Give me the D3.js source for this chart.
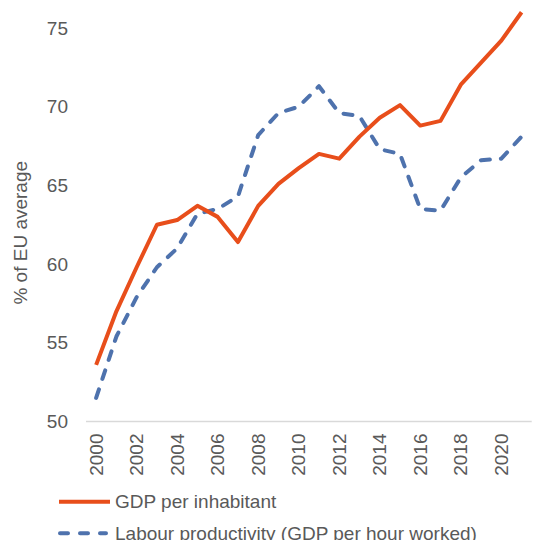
<!DOCTYPE html>
<html>
<head>
<meta charset="utf-8">
<script src="https://cdn.jsdelivr.net/npm/d3@7"></script>
<style>
	body { margin: 0; background: #fff; }
	text { font-family: "Liberation Sans", Arial, sans-serif; fill: #595959; }
</style>
</head>
<body>
<svg id="chart" width="534" height="540"></svg>
<script>
var years = d3.range(2000, 2022);
var gdpPerInhabitant = [53.6, 57.0, 59.8, 62.5, 62.8, 63.7, 63.0, 61.4, 63.7, 65.1, 66.1, 67.0, 66.7, 68.1, 69.3, 70.1, 68.8, 69.1, 71.4, 72.8, 74.2, 76.0];
var labourProductivity = [51.5, 55.4, 57.9, 59.8, 61.0, 63.2, 63.5, 64.3, 68.2, 69.6, 70.0, 71.3, 69.6, 69.4, 67.3, 67.0, 63.5, 63.4, 65.5, 66.6, 66.7, 68.1];
var yTicks = [50, 55, 60, 65, 70, 75];
var xTicks = [2000, 2002, 2004, 2006, 2008, 2010, 2012, 2014, 2016, 2018, 2020];
var seriesNames = ["GDP per inhabitant", "Labour productivity (GDP per hour worked)"];

var svg = d3.select("#chart"),
	red = "#E84E1B",
	blue = "#4E72AD",
	fontSize = "19px";

var x = d3.scalePoint()
	.domain(years)
	.range([86, 531.7])
	.padding(0.5);

var y = d3.scaleLinear()
	.domain([50, 75])
	.range([421.5, 28]);

// x axis line
svg.append("line")
	.attr("x1", 86).attr("x2", 531.7)
	.attr("y1", y(50)).attr("y2", y(50))
	.attr("stroke", "#d9d9d9")
	.attr("stroke-width", 1.3);

// y tick labels
svg.selectAll(".ytick")
	.data(yTicks)
	.enter().append("text")
	.attr("class", "ytick")
	.attr("x", 68)
	.attr("y", function (d) { return y(d); })
	.attr("dy", "0.35em")
	.attr("text-anchor", "end")
	.style("font-size", fontSize)
	.text(function (d) { return d; });

// x tick labels, rotated
svg.selectAll(".xtick")
	.data(xTicks)
	.enter().append("text")
	.attr("class", "xtick")
	.attr("transform", function (d) { return "translate(" + x(d) + "," + (y(50) + 12) + ") rotate(-90)"; })
	.attr("dy", "0.35em")
	.attr("text-anchor", "end")
	.style("font-size", fontSize)
	.text(function (d) { return d; });

// y axis title
svg.append("text")
	.attr("transform", "translate(20," + ((28 + 421.5) / 2 + 8) + ") rotate(-90)")
	.attr("dy", "0.35em")
	.attr("text-anchor", "middle")
	.style("font-size", fontSize)
	.text("% of EU average");

var line = d3.line()
	.x(function (d, i) { return x(years[i]); })
	.y(function (d) { return y(d); });

svg.append("path")
	.datum(labourProductivity)
	.attr("fill", "none")
	.attr("stroke", blue)
	.attr("stroke-width", 4)
	.attr("stroke-linecap", "round")
	.attr("stroke-linejoin", "round")
	.attr("stroke-dasharray", "9,11")
	.attr("d", line);

svg.append("path")
	.datum(gdpPerInhabitant)
	.attr("fill", "none")
	.attr("stroke", red)
	.attr("stroke-width", 4)
	.attr("stroke-linejoin", "round")
	.attr("d", line);

// legend
var legend = svg.selectAll(".legend")
	.data(seriesNames)
	.enter().append("g")
	.attr("class", "legend")
	.attr("transform", function (d, i) { return "translate(0," + (501.7 + i * 31.5) + ")"; });

legend.append("line")
	.attr("x1", function (d, i) { return i == 0 ? 59 : 60; })
	.attr("x2", function (d, i) { return i == 0 ? 110 : 106; })
	.attr("stroke", function (d, i) { return i == 0 ? red : blue; })
	.attr("stroke-width", 4)
	.attr("stroke-linecap", function (d, i) { return i == 0 ? "butt" : "round"; })
	.attr("stroke-dasharray", function (d, i) { return i == 0 ? null : "8,12"; });

legend.append("text")
	.attr("x", 115)
	.attr("dy", "0.35em")
	.style("font-size", fontSize)
	.text(function (d) { return d; });
</script>
</body>
</html>
